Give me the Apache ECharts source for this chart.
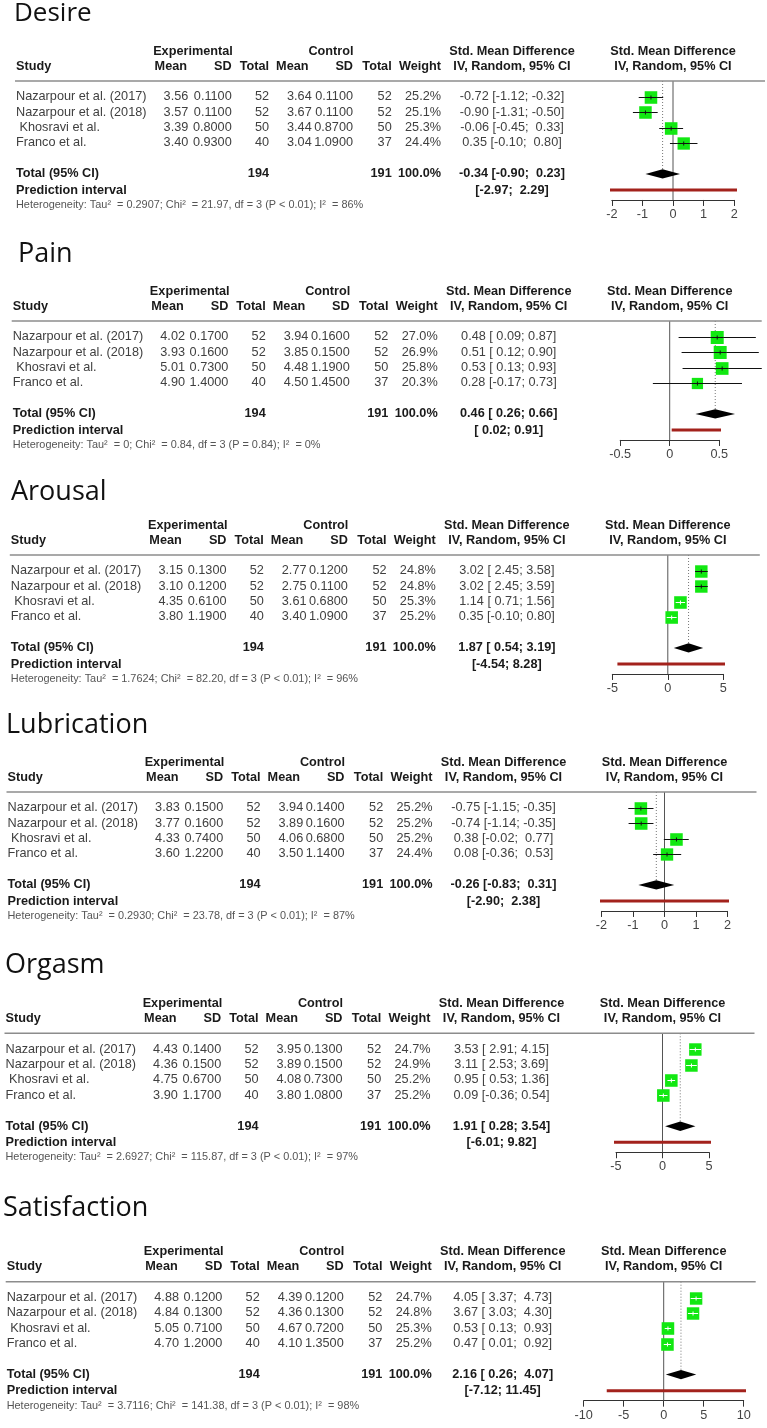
<!DOCTYPE html>
<html><head><meta charset="utf-8">
<script src="https://cdn.jsdelivr.net/npm/echarts@6/dist/echarts.min.js"></script>
<style>html,body{margin:0;padding:0;background:#fff}#c{width:767px;height:1428px}</style>
</head><body><div id="c"></div>
<script>
// ---------------- DATA ----------------
const outcomes = ['Desire', 'Pain', 'Arousal', 'Lubrication', 'Orgasm', 'Satisfaction'];
const studies = ['Nazarpour et al. (2017)', 'Nazarpour et al. (2018)', ' Khosravi et al.', 'Franco et al.'];
const expTotal = [52, 52, 50, 40];
const ctrlTotal = [52, 52, 50, 37];
const totalWeight = 100.0;

const desireExpMean = [3.56, 3.57, 3.39, 3.40];
const desireExpSD = [0.11, 0.11, 0.80, 0.93];
const desireCtrlMean = [3.64, 3.67, 3.44, 3.04];
const desireCtrlSD = [0.11, 0.11, 0.87, 1.09];
const desireWeight = [25.2, 25.1, 25.3, 24.4];
const desireSMD = [-0.72, -0.90, -0.06, 0.35];
const desireLower = [-1.12, -1.31, -0.45, -0.10];
const desireUpper = [-0.32, -0.50, 0.33, 0.80];
const desireSummary = [-0.34, -0.90, 0.23];
const desirePredict = [-2.97, 2.29];
const desireHet = ['0.2907', '21.97', '< 0.01', '86%'];
const desireTicks = [-2, -1, 0, 1, 2];

const painExpMean = [4.02, 3.93, 5.01, 4.90];
const painExpSD = [0.17, 0.16, 0.73, 1.40];
const painCtrlMean = [3.94, 3.85, 4.48, 4.50];
const painCtrlSD = [0.16, 0.15, 1.19, 1.45];
const painWeight = [27.0, 26.9, 25.8, 20.3];
const painSMD = [0.48, 0.51, 0.53, 0.28];
const painLower = [0.09, 0.12, 0.13, -0.17];
const painUpper = [0.87, 0.90, 0.93, 0.73];
const painSummary = [0.46, 0.26, 0.66];
const painPredict = [0.02, 0.91];
const painHet = ['0', '0.84', '= 0.84', '0%'];
const painTicks = [-0.5, 0, 0.5];

const arousalExpMean = [3.15, 3.10, 4.35, 3.80];
const arousalExpSD = [0.13, 0.12, 0.61, 1.19];
const arousalCtrlMean = [2.77, 2.75, 3.61, 3.40];
const arousalCtrlSD = [0.12, 0.11, 0.68, 1.09];
const arousalWeight = [24.8, 24.8, 25.3, 25.2];
const arousalSMD = [3.02, 3.02, 1.14, 0.35];
const arousalLower = [2.45, 2.45, 0.71, -0.10];
const arousalUpper = [3.58, 3.59, 1.56, 0.80];
const arousalSummary = [1.87, 0.54, 3.19];
const arousalPredict = [-4.54, 8.28];
const arousalHet = ['1.7624', '82.20', '< 0.01', '96%'];
const arousalTicks = [-5, 0, 5];

const lubricationExpMean = [3.83, 3.77, 4.33, 3.60];
const lubricationExpSD = [0.15, 0.16, 0.74, 1.22];
const lubricationCtrlMean = [3.94, 3.89, 4.06, 3.50];
const lubricationCtrlSD = [0.14, 0.16, 0.68, 1.14];
const lubricationWeight = [25.2, 25.2, 25.2, 24.4];
const lubricationSMD = [-0.75, -0.74, 0.38, 0.08];
const lubricationLower = [-1.15, -1.14, -0.02, -0.36];
const lubricationUpper = [-0.35, -0.35, 0.77, 0.53];
const lubricationSummary = [-0.26, -0.83, 0.31];
const lubricationPredict = [-2.90, 2.38];
const lubricationHet = ['0.2930', '23.78', '< 0.01', '87%'];
const lubricationTicks = [-2, -1, 0, 1, 2];

const orgasmExpMean = [4.43, 4.36, 4.75, 3.90];
const orgasmExpSD = [0.14, 0.15, 0.67, 1.17];
const orgasmCtrlMean = [3.95, 3.89, 4.08, 3.80];
const orgasmCtrlSD = [0.13, 0.15, 0.73, 1.08];
const orgasmWeight = [24.7, 24.9, 25.2, 25.2];
const orgasmSMD = [3.53, 3.11, 0.95, 0.09];
const orgasmLower = [2.91, 2.53, 0.53, -0.36];
const orgasmUpper = [4.15, 3.69, 1.36, 0.54];
const orgasmSummary = [1.91, 0.28, 3.54];
const orgasmPredict = [-6.01, 9.82];
const orgasmHet = ['2.6927', '115.87', '< 0.01', '97%'];
const orgasmTicks = [-5, 0, 5];

const satisfactionExpMean = [4.88, 4.84, 5.05, 4.70];
const satisfactionExpSD = [0.12, 0.13, 0.71, 1.20];
const satisfactionCtrlMean = [4.39, 4.36, 4.67, 4.10];
const satisfactionCtrlSD = [0.12, 0.13, 0.72, 1.35];
const satisfactionWeight = [24.7, 24.8, 25.3, 25.2];
const satisfactionSMD = [4.05, 3.67, 0.53, 0.47];
const satisfactionLower = [3.37, 3.03, 0.13, 0.01];
const satisfactionUpper = [4.73, 4.30, 0.93, 0.92];
const satisfactionSummary = [2.16, 0.26, 4.07];
const satisfactionPredict = [-7.12, 11.45];
const satisfactionHet = ['3.7116', '141.38', '< 0.01', '98%'];
const satisfactionTicks = [-10, -5, 0, 5, 10];

// table built from the arrays above
const panels = [
  {expMean: desireExpMean, expSD: desireExpSD, ctrlMean: desireCtrlMean, ctrlSD: desireCtrlSD, weight: desireWeight, smd: desireSMD, lower: desireLower, upper: desireUpper, summary: desireSummary, predict: desirePredict, het: desireHet, ticks: desireTicks},
  {expMean: painExpMean, expSD: painExpSD, ctrlMean: painCtrlMean, ctrlSD: painCtrlSD, weight: painWeight, smd: painSMD, lower: painLower, upper: painUpper, summary: painSummary, predict: painPredict, het: painHet, ticks: painTicks},
  {expMean: arousalExpMean, expSD: arousalExpSD, ctrlMean: arousalCtrlMean, ctrlSD: arousalCtrlSD, weight: arousalWeight, smd: arousalSMD, lower: arousalLower, upper: arousalUpper, summary: arousalSummary, predict: arousalPredict, het: arousalHet, ticks: arousalTicks},
  {expMean: lubricationExpMean, expSD: lubricationExpSD, ctrlMean: lubricationCtrlMean, ctrlSD: lubricationCtrlSD, weight: lubricationWeight, smd: lubricationSMD, lower: lubricationLower, upper: lubricationUpper, summary: lubricationSummary, predict: lubricationPredict, het: lubricationHet, ticks: lubricationTicks},
  {expMean: orgasmExpMean, expSD: orgasmExpSD, ctrlMean: orgasmCtrlMean, ctrlSD: orgasmCtrlSD, weight: orgasmWeight, smd: orgasmSMD, lower: orgasmLower, upper: orgasmUpper, summary: orgasmSummary, predict: orgasmPredict, het: orgasmHet, ticks: orgasmTicks},
  {expMean: satisfactionExpMean, expSD: satisfactionExpSD, ctrlMean: satisfactionCtrlMean, ctrlSD: satisfactionCtrlSD, weight: satisfactionWeight, smd: satisfactionSMD, lower: satisfactionLower, upper: satisfactionUpper, summary: satisfactionSummary, predict: satisfactionPredict, het: satisfactionHet, ticks: satisfactionTicks}
];

// ---------------- LAYOUT / STYLE ----------------
const L = {
  ruleY: [81, 321, 555, 792, 1033.3, 1281.7],
  shift: [0, -3.3, -5.2, -8.5, -10.5, -9.3],
  titleY: [14, 254, 492, 725, 965, 1208],
  titleX: [14, 18, 11, 6, 5, 3],
  titleSize: [26, 27, 27, 27, 27, 27],
  unitPx: [30.6, 99, 11.1, 31.5, 9.3, 8.0],
  zeroX: 673,
  rowPx: 15.33,
  yMin: -1.04,
  yMax: 6.72
};
const ROW_TOTAL = 5.02, ROW_PRED = 6.07;
const COL = {study: 16, expMeanH: 187, expMean: 188.3, expSD: 231.7, expTot: 269, ctrlMeanH: 308.5, ctrlMean: 311.7,
  ctrlSD: 353, ctrlTot: 391.7, weight: 441, ci: 512, expHead: 193, ctrlHead: 331, ruleL: 15, ruleR: 765};
const FONT = 'Liberation Sans, Arial, sans-serif';
const FS = 12.7;
const SQUARE_K = 25;
const SQUARE_COLOR = '#12e812';
const PRED_COLOR = '#a3221c';
const DIAMOND_H = 4.7;

function renderStudy(params, api) {
  const est = api.value(0), row = api.value(1), lo = api.value(2), hi = api.value(3), w = api.value(4);
  const c = api.coord([est, row]), a = api.coord([lo, row]), b = api.coord([hi, row]);
  const s = SQUARE_K * Math.sqrt(w / 100);
  const y = Math.round(c[1]) + 0.5;
  const inside = (b[0] - a[0]) < s - 0.5;
  const ic = inside ? '#ffffff' : '#111111';
  return {type: 'group', children: [
    {type: 'line', shape: {x1: a[0], y1: y, x2: b[0], y2: y}, style: {stroke: '#111', lineWidth: 1}},
    {type: 'rect', shape: {x: c[0] - s / 2, y: y - s / 2, width: s, height: s}, style: {fill: SQUARE_COLOR}},
    {type: 'line', shape: {x1: Math.max(a[0], c[0] - s / 2), y1: y, x2: Math.min(b[0], c[0] + s / 2), y2: y}, style: {stroke: ic, lineWidth: 1}},
    {type: 'line', shape: {x1: c[0], y1: y - 2, x2: c[0], y2: y + 2}, style: {stroke: ic, lineWidth: 1}}
  ]};
}
function renderDiamond(params, api) {
  const est = api.value(0), row = api.value(1), lo = api.value(2), hi = api.value(3);
  const c = api.coord([est, row]), a = api.coord([lo, row]), b = api.coord([hi, row]);
  return {type: 'polygon', shape: {points: [[a[0], c[1]], [c[0], c[1] - DIAMOND_H], [b[0], c[1]], [c[0], c[1] + DIAMOND_H]]}, style: {fill: '#000'}};
}

const grids = [], xAxes = [], yAxes = [], series = [];
panels.forEach((p, i) => {
  const t0 = p.ticks[0], t1 = p.ticks[p.ticks.length - 1];
  grids.push({left: L.zeroX + L.shift[i] + t0 * L.unitPx[i], width: (t1 - t0) * L.unitPx[i], top: L.ruleY[i],
    height: (L.yMax - L.yMin) * L.rowPx, containLabel: false, outerBoundsMode: 'none'});
  xAxes.push({gridIndex: i, type: 'value', min: t0, max: t1, interval: p.ticks[1] - p.ticks[0],
    axisLine: {show: true, onZero: false, lineStyle: {color: '#333', width: 1}},
    axisTick: {show: true, length: 6, lineStyle: {color: '#333', width: 1}},
    axisLabel: {color: '#444', fontSize: FS, fontFamily: FONT, margin: 8, showMinLabel: true, showMaxLabel: true},
    splitLine: {show: false}});
  yAxes.push({gridIndex: i, type: 'value', min: L.yMin, max: L.yMax, inverse: true, show: false});
  const base = {xAxisIndex: i, yAxisIndex: i, silent: true, animation: false};
  series.push(Object.assign({type: 'line', data: [[0, L.yMin], [0, L.yMax]], symbol: 'none', clip: false,
    lineStyle: {color: '#555', width: 1}, z: 1}, base));
  series.push(Object.assign({type: 'line', data: [[p.summary[0], L.yMin], [p.summary[0], ROW_TOTAL]], symbol: 'none', clip: false,
    lineStyle: {color: '#777', width: 1, type: [1, 2]}, z: 1}, base));
  series.push(Object.assign({type: 'line', data: [[p.predict[0], ROW_PRED], [p.predict[1], ROW_PRED]], symbol: 'none', clip: false,
    lineStyle: {color: PRED_COLOR, width: 3}, z: 3}, base));
  series.push(Object.assign({type: 'custom', renderItem: renderStudy, clip: false, z: 4,
    encode: {x: 0, y: 1},
    data: p.smd.map((v, k) => [v, k, p.lower[k], p.upper[k], p.weight[k]])}, base));
  series.push(Object.assign({type: 'custom', renderItem: renderDiamond, clip: false, z: 4,
    encode: {x: 0, y: 1},
    data: [[p.summary[0], ROW_TOTAL, p.summary[1], p.summary[2]]]}, base));
});

const chart = echarts.init(document.getElementById('c'), null, {renderer: 'canvas', width: 767, height: 1428});
chart.setOption({animation: false, backgroundColor: '#fff', grid: grids, xAxis: xAxes, yAxis: yAxes, series: series});

// ---------------- TABLE TEXT ----------------
function padList(arr) {
  const s = arr.map(v => v.toFixed(2));
  const w = Math.max(...s.map(x => x.length));
  return s.map(x => x.padStart(w, ' '));
}
const g = [];
function T(x, y, text, align, opt) {
  opt = opt || {};
  g.push({type: 'text', x: x, y: y, silent: true, z: 10, style: {text: text, align: align, verticalAlign: 'middle',
    fontFamily: opt.family || FONT, fontSize: opt.size || FS, fontWeight: opt.weight || 'normal',
    fill: opt.color || (opt.weight === 'bold' ? '#1a1a1a' : '#404040')}});
}
const sumExp = expTotal.reduce((a, b) => a + b, 0);
const sumCtrl = ctrlTotal.reduce((a, b) => a + b, 0);

panels.forEach((p, i) => {
  const s = L.shift[i];
  const yOf = r => chart.convertToPixel({gridIndex: i}, [0, r])[1];
  const zx = chart.convertToPixel({gridIndex: i}, [0, 0])[0];
  const rule = yOf(L.yMin);
  const h1 = rule - 30, h2 = rule - 15;
  const B = {weight: 'bold'};
  // title
  T(L.titleX[i], L.titleY[i], outcomes[i], 'left', {family: 'Open Sans', size: L.titleSize[i], weight: 500, color: '#111'});
  // headers
  T(COL.expHead + s, h1, 'Experimental', 'center', B);
  T(COL.ctrlHead + s, h1, 'Control', 'center', B);
  T(COL.ci + s, h1, 'Std. Mean Difference', 'center', B);
  T(zx, h1, 'Std. Mean Difference', 'center', B);
  T(COL.study + s, h2, 'Study', 'left', B);
  T(COL.expMeanH + s, h2, 'Mean', 'right', B);
  T(COL.expSD + s, h2, 'SD', 'right', B);
  T(COL.expTot + s, h2, 'Total', 'right', B);
  T(COL.ctrlMeanH + s, h2, 'Mean', 'right', B);
  T(COL.ctrlSD + s, h2, 'SD', 'right', B);
  T(COL.ctrlTot + s, h2, 'Total', 'right', B);
  T(COL.weight + s, h2, 'Weight', 'right', B);
  T(COL.ci + s, h2, 'IV, Random, 95% CI', 'center', B);
  T(zx, h2, 'IV, Random, 95% CI', 'center', B);
  g.push({type: 'line', silent: true, z: 5, shape: {x1: COL.ruleL + s, y1: rule, x2: COL.ruleR + s, y2: rule},
    style: {stroke: '#8c8c8c', lineWidth: 1.6}});
  const lows = padList(p.lower.concat([p.summary[1], p.predict[0]]));
  const ups = padList(p.upper.concat([p.summary[2], p.predict[1]]));
  studies.forEach((name, k) => {
    const y = yOf(k);
    T(COL.study + s, y, name, 'left');
    T(COL.expMean + s, y, p.expMean[k].toFixed(2), 'right');
    T(COL.expSD + s, y, p.expSD[k].toFixed(4), 'right');
    T(COL.expTot + s, y, String(expTotal[k]), 'right');
    T(COL.ctrlMean + s, y, p.ctrlMean[k].toFixed(2), 'right');
    T(COL.ctrlSD + s, y, p.ctrlSD[k].toFixed(4), 'right');
    T(COL.ctrlTot + s, y, String(ctrlTotal[k]), 'right');
    T(COL.weight + s, y, p.weight[k].toFixed(1) + '%', 'right');
    T(COL.ci + s, y, p.smd[k].toFixed(2) + ' [' + lows[k] + '; ' + ups[k] + ']', 'center');
  });
  const yt = yOf(ROW_TOTAL), yp = yOf(ROW_PRED);
  T(COL.study + s, yt, 'Total (95% CI)', 'left', B);
  T(COL.expTot + s, yt, String(sumExp), 'right', B);
  T(COL.ctrlTot + s, yt, String(sumCtrl), 'right', B);
  T(COL.weight + s, yt, totalWeight.toFixed(1) + '%', 'right', B);
  T(COL.ci + s, yt, p.summary[0].toFixed(2) + ' [' + lows[4] + '; ' + ups[4] + ']', 'center', B);
  T(COL.study + s, yp, 'Prediction interval', 'left', B);
  T(COL.ci + s, yp, '[' + lows[5] + '; ' + ups[5] + ']', 'center', B);
  const het = 'Heterogeneity: Tau\u00B2  = ' + p.het[0] + '; Chi\u00B2  = ' + p.het[1] + ', df = 3 (P ' + p.het[2] + '); I\u00B2  = ' + p.het[3];
  T(COL.study + s, rule + 124, het, 'left', {size: 10.9, color: '#555'});
});
chart.setOption({graphic: {elements: g}});
</script>
</body></html>
